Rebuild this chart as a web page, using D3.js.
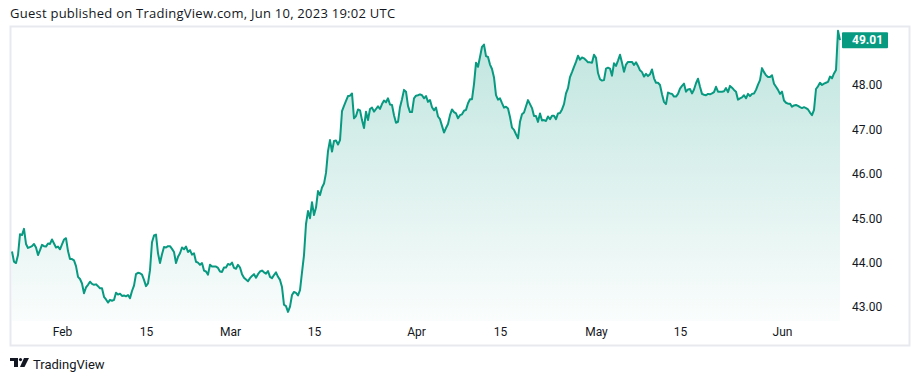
<!DOCTYPE html>
<html><head><meta charset="utf-8">
<script src="https://cdn.jsdelivr.net/npm/d3@7"></script>
<style>
html,body{margin:0;padding:0;background:#fff;}
svg{display:block;font-family:Roboto,"Noto Sans",sans-serif;}
</style></head>
<body><svg id="c" width="920" height="382"></svg>
<script>
// ---- data ----
const startDate = "2023-01-23T16:00:00Z";
const stepHours = 8;
const prices = [
44.25,44.02,43.99,44.17,44.64,44.62,44.76,44.42,44.33,44.35,44.37,44.42,44.34,44.17,44.28,44.40,44.37,44.36,44.43,44.42,
44.52,44.43,44.34,44.36,44.30,44.41,44.52,44.55,44.26,44.08,44.08,44.05,43.92,43.68,43.63,43.53,43.31,43.44,43.50,43.57,
43.52,43.50,43.51,43.47,43.42,43.42,43.23,43.17,43.10,43.16,43.14,43.16,43.32,43.28,43.30,43.25,43.26,43.24,43.27,43.20,
43.36,43.48,43.74,43.77,43.76,43.73,43.61,43.47,43.53,43.83,44.46,44.61,44.63,44.21,43.99,44.19,44.35,44.34,44.37,44.37,
44.31,44.24,43.99,44.13,44.21,44.34,44.30,44.36,44.24,44.28,44.18,44.21,44.02,44.00,43.95,43.99,43.82,43.80,43.73,43.95,
43.91,43.91,43.91,43.88,43.80,43.79,43.89,43.89,43.97,43.95,44.00,43.88,43.86,43.95,43.89,43.74,43.66,43.62,43.58,43.65,
43.70,43.74,43.66,43.74,43.80,43.82,43.78,43.75,43.81,43.68,43.65,43.72,43.78,43.68,43.61,43.45,43.05,43.02,42.89,43.01,
43.27,43.34,43.32,43.26,43.38,43.78,44.17,44.87,45.16,45.00,45.36,45.07,45.24,45.61,45.52,45.69,45.78,46.02,46.51,46.76,
46.50,46.74,46.75,46.66,46.76,47.41,47.53,47.64,47.75,47.76,47.81,47.25,47.30,47.45,47.43,47.21,47.03,47.40,47.21,47.46,
47.49,47.40,47.46,47.52,47.46,47.57,47.65,47.61,47.70,47.56,47.55,47.32,47.15,47.17,47.50,47.68,47.89,47.85,47.53,47.39,
47.39,47.70,47.76,47.77,47.79,47.77,47.70,47.75,47.62,47.66,47.50,47.43,47.49,47.29,47.23,47.08,46.93,47.03,47.12,47.32,
47.45,47.39,47.36,47.25,47.32,47.34,47.42,47.44,47.59,47.68,47.68,48.02,48.50,48.41,48.63,48.86,48.91,48.65,48.63,48.46,
48.36,48.17,47.77,47.67,47.70,47.59,47.49,47.51,47.47,47.28,47.04,46.99,46.89,46.80,47.17,47.34,47.38,47.52,47.66,47.57,
47.48,47.30,47.30,47.17,47.36,47.20,47.21,47.19,47.29,47.23,47.31,47.31,47.23,47.36,47.37,47.45,47.57,47.81,47.93,48.18,
48.29,48.41,48.52,48.66,48.57,48.62,48.60,48.56,48.51,48.51,48.50,48.68,48.61,48.27,48.13,48.10,48.11,48.37,48.39,48.37,
48.21,48.49,48.43,48.55,48.68,48.50,48.30,48.46,48.52,48.52,48.52,48.45,48.51,48.43,48.33,48.29,48.19,48.25,48.20,48.24,
48.35,48.15,48.05,48.05,48.00,47.79,47.62,47.57,47.83,47.81,47.80,47.74,47.74,47.80,47.92,47.98,48.03,47.85,47.90,47.91,
47.81,47.90,48.04,48.14,47.96,47.80,47.78,47.77,47.80,47.79,47.81,47.84,47.96,47.85,47.85,47.85,47.86,47.93,47.84,47.98,
47.94,47.89,47.85,47.67,47.70,47.72,47.77,47.70,47.80,47.75,47.80,47.81,47.89,48.01,48.11,48.38,48.29,48.22,48.18,48.18,
48.22,48.03,47.96,47.89,47.80,47.85,47.65,47.60,47.58,47.58,47.51,47.54,47.55,47.53,47.50,47.48,47.50,47.48,47.45,47.38,
47.32,47.44,47.91,47.97,48.05,48.00,48.03,48.05,48.07,48.19,48.15,48.26,48.34,49.22,49.01
];
const priceTicks = [43, 44, 45, 46, 47, 48];
const timeTicks = ["2023-02-01","2023-02-15","2023-03-01","2023-03-15","2023-04-01","2023-04-15","2023-05-01","2023-05-15","2023-06-01"];
const timeTickLabels = ["Feb","15","Mar","15","Apr","15","May","15","Jun"];
const headerText = "Guest published on TradingView.com, Jun 10, 2023 19:02 UTC";
const lastLabel = "49.01";

// ---- build ----
const t0 = Date.parse(startDate);
const data = prices.map((v, i) => ({ date: new Date(t0 + i * stepHours * 3600e3), value: v }));

const svg = d3.select("#c");
const green = "#089981";
const paneBottom = 321;

const x = d3.scaleUtc().domain(d3.extent(data, d => d.date)).range([12, 840]);
const y = d3.scaleLinear().domain([43, 48]).range([307, 85]);

// header
svg.append("text").attr("x", 10).attr("y", 17.5)
  .attr("font-size", 13).attr("letter-spacing", 0.25).attr("font-family", "'Open Sans',sans-serif")
  .attr("fill", "#131722").text(headerText);

// frame
svg.append("rect").attr("x", 10.5).attr("y", 26.5).attr("width", 899).attr("height", 319)
  .attr("fill", "none").attr("stroke", "#e8e9ef").attr("stroke-width", 2);

// gradient
const defs = svg.append("defs");
const grad = defs.append("linearGradient").attr("id", "g").attr("gradientUnits", "userSpaceOnUse")
  .attr("x1", 0).attr("x2", 0).attr("y1", 30).attr("y2", paneBottom);
grad.append("stop").attr("offset", 0).attr("stop-color", green).attr("stop-opacity", 0.26);
grad.append("stop").attr("offset", 1).attr("stop-color", green).attr("stop-opacity", 0.02);

svg.append("path").datum(data)
  .attr("d", d3.area().x(d => x(d.date)).y0(paneBottom).y1(d => y(d.value)))
  .attr("fill", "url(#g)");

svg.append("path").datum(data)
  .attr("d", d3.line().x(d => x(d.date)).y(d => y(d.value)))
  .attr("fill", "none").attr("stroke", green).attr("stroke-width", 2).attr("stroke-linejoin", "round");

// price axis
const ya = svg.append("g").attr("transform", "translate(846,0)")
  .call(d3.axisRight(y).tickValues(priceTicks).tickFormat(d3.format(".2f")).tickSize(0).tickPadding(6));
ya.select(".domain").remove();
ya.selectAll("text").attr("font-size", 12).attr("fill", "#131722").attr("font-family", "Roboto,sans-serif");

// last value label
const last = data[data.length - 1];
svg.append("rect").attr("x", 842).attr("y", y(last.value) - 8).attr("width", 46).attr("height", 16)
  .attr("rx", 1).attr("fill", green);
svg.append("text").attr("x", 852).attr("y", y(last.value)).attr("dy", "0.35em")
  .attr("font-size", 12).attr("font-weight", "bold").attr("fill", "#fff").text(lastLabel);

// time axis
const xa = svg.append("g").attr("transform", "translate(0,327)")
  .call(d3.axisBottom(x).tickValues(timeTicks.map(s => new Date(s + "T00:00:00Z")))
    .tickFormat((d, i) => timeTickLabels[i]).tickSize(0).tickPadding(0));
xa.select(".domain").remove();
xa.selectAll("text").attr("font-size", 12).attr("fill", "#131722").attr("font-family", "Roboto,sans-serif");

// logo
const logo = svg.append("g").attr("transform", "translate(10,358)").attr("fill", "#131722");
logo.append("path").attr("d", "M0 0 H8 V9 H4 V3 H0 Z");
logo.append("circle").attr("cx", 10.5).attr("cy", 1.6).attr("r", 1.6);
logo.append("path").attr("d", "M14 0 H19 L14.5 9 H10 Z");
svg.append("text").attr("x", 33).attr("y", 369).attr("font-size", 13).attr("fill", "#131722").text("TradingView");
</script></body></html>
